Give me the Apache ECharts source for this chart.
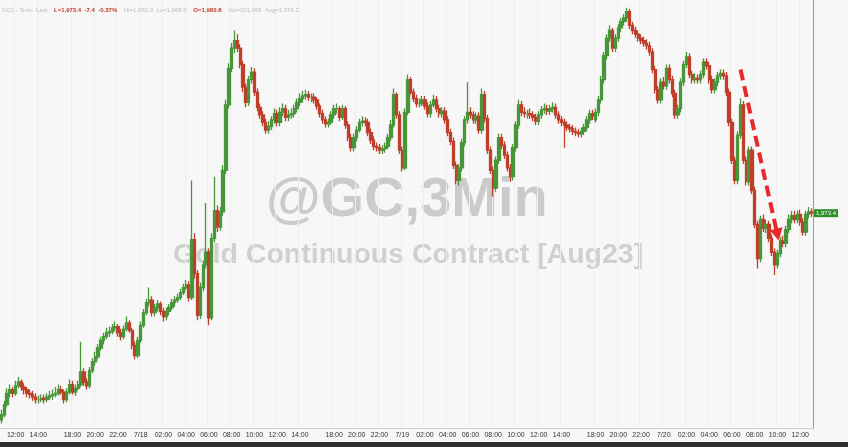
<!DOCTYPE html>
<html><head><meta charset="utf-8">
<script src="https://cdn.jsdelivr.net/npm/echarts/dist/echarts.min.js"></script>
<style>html,body{margin:0;padding:0;background:#f7f7f7}#c{width:848px;height:447px}</style>
</head><body><div id="c"></div>
<script>
// Trading sessions (15-minute bars): [month/day, start hour, start minute, bar count]
const sessions = [[17, 10, 45, 25], [17, 18, 0, 92], [18, 18, 0, 92], [19, 18, 0, 77]];

const xTickLabels = [
 '7/17 12:00','7/17 14:00','7/17 18:00','7/17 20:00','7/17 22:00',
 '7/18 00:00','7/18 02:00','7/18 04:00','7/18 06:00','7/18 08:00','7/18 10:00','7/18 12:00','7/18 14:00',
 '7/18 18:00','7/18 20:00','7/18 22:00',
 '7/19 00:00','7/19 02:00','7/19 04:00','7/19 06:00','7/19 08:00','7/19 10:00','7/19 12:00','7/19 14:00',
 '7/19 18:00','7/19 20:00','7/19 22:00',
 '7/20 00:00','7/20 02:00','7/20 04:00','7/20 06:00','7/20 08:00','7/20 10:00','7/20 12:00'
];

const yTicks = [1960, 1965, 1970, 1975, 1980, 1985];

const opens = [
1957.0,1957.4,1958.2,1959.1,1959.4,1959.1,1959.7,1960.0,1959.6,1959.4,
1959.1,1959.0,1958.8,1958.6,1958.6,1958.7,1958.6,1958.8,1958.9,1959.0,
1959.1,1959.4,1959.2,1958.6,1959.2,1959.8,1959.2,1959.5,1959.8,1960.8,
1960.0,1959.7,1960.9,1961.6,1962.0,1962.7,1963.3,1963.6,1963.9,1964.0,
1964.3,1964.4,1963.9,1963.6,1964.2,1964.7,1964.1,1962.9,1962.1,1963.3,
1964.5,1965.5,1966.3,1966.5,1965.5,1965.9,1966.2,1965.6,1965.2,1965.6,
1965.9,1966.3,1966.5,1966.7,1967.1,1967.5,1967.7,1966.7,1971.3,1968.6,
1965.3,1967.5,1969.3,1970.3,1965.1,1971.4,1973.6,1972.3,1973.5,1976.8,
1982.0,1984.9,1986.5,1987.1,1986.5,1985.2,1983.4,1982.2,1984.0,1984.6,
1983.0,1981.8,1981.2,1980.6,1980.0,1980.3,1980.8,1981.3,1980.6,1981.4,
1981.7,1981.0,1981.2,1981.3,1981.7,1982.2,1982.5,1982.7,1982.8,1982.6,
1982.6,1982.4,1981.9,1981.3,1980.8,1980.5,1980.6,1981.2,1981.7,1981.7,
1981.0,1981.7,1980.4,1979.4,1978.6,1979.4,1980.0,1980.6,1980.7,1980.6,
1979.8,1979.2,1978.7,1978.6,1978.4,1978.5,1978.7,1979.4,1980.4,1982.8,
1981.2,1978.4,1977.0,1981.4,1984.0,1983.0,1982.5,1982.1,1982.1,1982.4,
1981.9,1981.3,1982.0,1982.4,1981.7,1981.3,1981.5,1980.8,1979.8,1979.1,
1977.2,1976.0,1977.0,1979.0,1980.8,1981.4,1981.2,1980.8,1981.1,1980.0,
1982.8,1980.9,1978.4,1976.8,1975.4,1977.6,1979.4,1978.8,1978.0,1977.0,
1976.3,1978.6,1980.4,1982.0,1981.4,1981.3,1981.3,1981.2,1981.0,1980.7,
1981.2,1981.6,1981.7,1981.5,1981.7,1981.8,1981.2,1980.8,1980.6,1980.4,
1980.2,1980.1,1979.9,1979.8,1979.7,1979.9,1980.2,1980.8,1981.3,1980.8,
1981.4,1982.4,1984.0,1985.9,1987.3,1987.9,1986.5,1987.3,1988.1,1988.6,
1988.9,1989.4,1988.3,1987.9,1987.6,1987.3,1987.1,1986.9,1986.7,1986.2,
1984.8,1983.2,1982.4,1983.8,1983.5,1984.9,1984.0,1982.9,1981.2,1981.7,
1983.8,1985.2,1985.8,1984.4,1984.0,1984.1,1984.0,1984.4,1985.4,1985.1,
1984.0,1983.2,1983.8,1984.3,1984.5,1984.3,1983.0,1980.6,1977.6,1976.0,
1979.6,1982.0,1977.6,1975.9,1978.4,1975.2,1972.5,1969.8,1972.9,1972.2,
1972.5,1971.4,1970.3,1969.3,1970.2,1971.2,1971.0,1972.1,1972.9,1973.2,
1972.9,1973.3,1972.7,1971.9,1973.3,1973.5];

const closes = [
1957.4,1958.2,1959.1,1959.4,1959.1,1959.7,1960.0,1959.6,1959.4,1959.1,
1959.0,1958.8,1958.6,1958.6,1958.7,1958.6,1958.8,1958.9,1959.0,1959.1,
1959.4,1959.2,1958.6,1959.2,1959.8,1959.2,1959.5,1959.8,1960.8,1960.0,
1959.7,1960.9,1961.6,1962.0,1962.7,1963.3,1963.6,1963.9,1964.0,1964.3,
1964.4,1963.9,1963.6,1964.2,1964.7,1964.1,1962.9,1962.1,1963.3,1964.5,
1965.5,1966.3,1966.5,1965.5,1965.9,1966.2,1965.6,1965.2,1965.6,1965.9,
1966.3,1966.5,1966.7,1967.1,1967.5,1967.7,1966.7,1971.3,1968.6,1965.3,
1967.5,1969.3,1970.3,1965.1,1971.4,1973.6,1972.3,1973.5,1976.8,1982.0,
1984.9,1986.5,1987.1,1986.5,1985.2,1983.4,1982.2,1984.0,1984.6,1983.0,
1981.8,1981.2,1980.6,1980.0,1980.3,1980.8,1981.3,1980.6,1981.4,1981.7,
1981.0,1981.2,1981.3,1981.7,1982.2,1982.5,1982.7,1982.8,1982.6,1982.6,
1982.4,1981.9,1981.3,1980.8,1980.5,1980.6,1981.2,1981.7,1981.7,1981.0,
1981.7,1980.4,1979.4,1978.6,1979.4,1980.0,1980.6,1980.7,1980.6,1979.8,
1979.2,1978.7,1978.6,1978.4,1978.5,1978.7,1979.4,1980.4,1982.8,1981.2,
1978.4,1977.0,1981.4,1984.0,1983.0,1982.5,1982.1,1982.1,1982.4,1981.9,
1981.3,1982.0,1982.4,1981.7,1981.3,1981.5,1980.8,1979.8,1979.1,1977.2,
1976.0,1977.0,1979.0,1980.8,1981.4,1981.2,1980.8,1981.1,1980.0,1982.8,
1980.9,1978.4,1976.8,1975.4,1977.6,1979.4,1978.8,1978.0,1977.0,1976.3,
1978.6,1980.4,1982.0,1981.4,1981.3,1981.3,1981.2,1981.0,1980.7,1981.2,
1981.6,1981.7,1981.5,1981.7,1981.8,1981.2,1980.8,1980.6,1980.4,1980.2,
1980.1,1979.9,1979.8,1979.7,1979.9,1980.2,1980.8,1981.3,1981.1,1981.4,
1982.4,1984.0,1985.9,1987.3,1987.9,1986.5,1987.3,1988.1,1988.6,1988.9,
1989.4,1988.3,1987.9,1987.6,1987.3,1987.1,1986.9,1986.7,1986.2,1984.8,
1983.2,1982.4,1983.8,1983.5,1984.9,1984.0,1982.9,1981.2,1981.7,1983.8,
1985.2,1985.8,1984.4,1984.0,1984.1,1984.0,1984.4,1985.4,1985.1,1984.0,
1983.2,1983.8,1984.3,1984.5,1984.3,1983.0,1980.6,1977.6,1976.0,1979.6,
1982.0,1977.6,1975.9,1978.4,1975.2,1972.5,1969.8,1972.9,1972.2,1972.5,
1971.4,1970.3,1969.3,1970.2,1971.2,1971.0,1972.1,1972.9,1973.2,1972.9,
1973.3,1972.7,1971.9,1973.3,1973.5,1973.4];

const lows = [
1956.7,1957.2,1958.0,1958.8,1958.8,1958.9,1959.5,1959.3,1959.0,1958.8,
1958.7,1958.5,1958.3,1958.3,1958.4,1958.3,1958.4,1958.6,1958.6,1958.8,
1958.9,1959.0,1958.3,1958.4,1959.0,1959.0,1958.9,1959.3,1959.6,1959.7,
1959.4,1959.5,1960.7,1961.3,1961.8,1962.5,1963.0,1963.4,1963.6,1963.8,
1964.0,1963.6,1963.3,1963.4,1964.0,1963.9,1962.6,1961.8,1961.9,1963.1,
1964.3,1965.3,1966.0,1965.2,1965.2,1965.6,1965.3,1964.8,1964.9,1965.3,
1965.7,1966.0,1966.3,1966.5,1966.9,1967.3,1966.4,1966.5,1968.2,1964.9,
1965.0,1967.2,1969.0,1964.5,1964.9,1971.1,1971.9,1972.0,1973.2,1976.5,
1981.7,1984.6,1986.1,1986.2,1984.9,1983.0,1981.8,1981.9,1983.7,1982.7,
1981.5,1980.9,1980.3,1979.7,1979.7,1980.0,1980.5,1980.3,1980.3,1981.1,
1980.7,1980.7,1980.9,1981.0,1981.4,1981.9,1982.2,1982.4,1982.3,1982.2,
1982.1,1981.6,1981.0,1980.5,1980.2,1980.2,1980.4,1980.9,1981.3,1980.7,
1980.8,1980.1,1979.1,1978.3,1978.3,1979.1,1979.8,1980.3,1980.3,1979.5,
1978.9,1978.4,1978.3,1978.1,1978.1,1978.2,1978.5,1979.1,1980.2,1980.9,
1978.1,1976.7,1976.8,1981.2,1982.8,1982.2,1981.8,1981.8,1981.9,1981.6,
1981.0,1981.0,1981.8,1981.4,1981.0,1981.0,1980.5,1979.5,1978.8,1976.9,
1975.7,1975.6,1976.7,1978.7,1980.5,1980.9,1980.5,1980.5,1979.7,1979.7,
1980.6,1978.1,1976.5,1974.7,1975.1,1977.3,1978.5,1977.7,1976.7,1975.9,
1976.0,1978.3,1980.1,1981.1,1981.0,1980.9,1980.9,1980.7,1980.4,1980.4,
1980.9,1981.3,1981.2,1981.2,1981.4,1980.9,1980.5,1980.3,1978.6,1979.9,
1979.8,1979.6,1979.5,1979.4,1979.4,1979.6,1979.9,1980.5,1980.8,1980.6,
1981.1,1982.1,1983.7,1985.6,1987.0,1986.2,1986.2,1987.0,1987.8,1988.3,
1988.6,1988.0,1987.6,1987.3,1987.0,1986.8,1986.6,1986.4,1985.9,1984.5,
1982.9,1982.1,1982.1,1983.2,1983.2,1983.7,1982.6,1980.9,1980.9,1981.4,
1983.5,1984.9,1984.1,1983.7,1983.7,1983.7,1983.7,1984.1,1984.8,1983.7,
1982.9,1982.9,1983.5,1984.0,1984.0,1982.7,1980.3,1977.3,1975.7,1975.7,
1979.3,1977.3,1975.6,1975.6,1974.9,1972.2,1969.0,1969.5,1971.9,1971.8,
1971.1,1970.0,1968.5,1969.0,1969.9,1970.7,1970.7,1971.8,1972.6,1972.6,
1972.6,1972.4,1971.6,1971.6,1973.0,1973.1];

const highs = [
1957.8,1958.5,1959.5,1959.8,1959.6,1960.1,1960.4,1960.2,1959.9,1959.6,
1959.4,1959.3,1959.1,1958.9,1959.0,1959.0,1959.1,1959.3,1959.4,1959.6,
1959.8,1959.7,1959.4,1959.5,1960.2,1960.1,1959.8,1960.1,1963.2,1961.1,
1960.3,1961.2,1961.9,1962.4,1963.0,1963.6,1963.9,1964.3,1964.4,1964.6,
1964.8,1964.6,1964.2,1964.5,1965.2,1964.9,1964.3,1963.2,1963.6,1964.8,
1965.8,1966.6,1967.5,1966.8,1966.2,1966.5,1966.4,1965.9,1965.9,1966.2,
1966.6,1966.8,1967.0,1967.4,1967.8,1968.1,1968.0,1976.0,1971.8,1968.9,
1967.9,1969.6,1974.2,1970.6,1971.8,1976.3,1974.0,1973.9,1977.2,1982.4,
1985.3,1986.9,1987.9,1987.6,1986.8,1985.5,1983.7,1984.3,1985.0,1984.9,
1983.3,1982.1,1981.5,1980.9,1980.7,1981.1,1981.7,1981.6,1981.8,1982.1,
1982.0,1981.6,1981.7,1982.0,1982.5,1982.9,1983.1,1983.2,1983.1,1982.9,
1982.9,1982.6,1982.1,1981.6,1981.1,1980.9,1981.5,1982.0,1982.1,1981.9,
1982.0,1981.9,1980.7,1979.7,1979.7,1980.3,1980.9,1981.1,1981.0,1980.9,
1980.1,1979.5,1979.0,1978.9,1978.8,1979.0,1979.7,1980.8,1983.3,1983.0,
1981.5,1978.7,1981.7,1984.4,1984.2,1983.3,1982.8,1982.5,1982.7,1982.7,
1982.2,1982.3,1982.8,1982.7,1982.0,1981.8,1981.8,1981.1,1980.1,1979.4,
1977.5,1977.3,1979.3,1981.1,1983.8,1981.8,1981.5,1981.4,1981.4,1983.3,
1983.1,1981.2,1978.7,1977.1,1977.9,1979.7,1979.7,1979.1,1978.3,1977.3,
1978.9,1980.7,1982.4,1982.3,1981.8,1981.6,1981.7,1981.5,1981.3,1981.5,
1981.9,1982.1,1982.0,1982.0,1982.2,1982.1,1981.5,1981.1,1980.9,1980.7,
1980.5,1980.4,1980.2,1980.1,1980.2,1980.5,1981.1,1981.6,1981.6,1981.7,
1982.7,1984.3,1986.2,1987.6,1988.3,1988.1,1987.6,1988.4,1988.9,1989.2,
1989.7,1989.6,1988.6,1988.2,1987.9,1987.6,1987.4,1987.2,1987.0,1986.5,
1985.1,1983.5,1984.1,1984.2,1985.2,1985.2,1984.3,1983.2,1982.0,1984.1,
1985.5,1986.2,1986.1,1984.7,1984.5,1984.4,1984.7,1985.7,1985.7,1985.4,
1984.3,1984.1,1984.6,1984.8,1984.8,1984.6,1983.3,1980.9,1977.9,1979.9,
1982.5,1982.3,1977.9,1978.7,1978.7,1975.5,1972.8,1973.2,1973.3,1972.9,
1972.8,1971.7,1970.6,1970.5,1971.5,1971.6,1972.4,1973.3,1973.6,1973.6,
1973.6,1973.7,1973.0,1973.6,1973.9,1973.8];

// build category labels "7/D HH:MM" for each 15-minute bar
const categories = [];
sessions.forEach(([day, h, m, n]) => {
  let d = day, t = h * 60 + m;
  for (let k = 0; k < n; k++) {
    if (t >= 1440) { t -= 1440; d += 1; }
    const hh = String(Math.floor(t / 60)).padStart(2, '0');
    const mm = String(t % 60).padStart(2, '0');
    categories.push('7/' + d + ' ' + hh + ':' + mm);
    t += 15;
  }
});
const ohlc = closes.map((c, i) => [opens[i], c, lows[i], highs[i]]);
const tickSet = new Set(xTickLabels);
const lastClose = closes[closes.length - 1];
const fmt = v => v.toLocaleString('en-US', {minimumFractionDigits: 1, maximumFractionDigits: 1});

const chart = echarts.init(document.getElementById('c'), null, {renderer: 'canvas'});
chart.setOption({
  backgroundColor: '#f7f7f7',
  animation: false,
  grid: {left: 0, right: 35, top: 0, bottom: 19},
  xAxis: {
    type: 'category', data: categories, boundaryGap: true,
    axisLine: {show: true, lineStyle: {color: '#cfcfcf'}},
    axisTick: {show: false},
    axisLabel: {
      interval: (i, v) => tickSet.has(v),
      formatter: v => v.endsWith('00:00') ? v.split(' ')[0] : v.split(' ')[1],
      fontSize: 7, color: '#333', margin: 4, fontFamily: 'Liberation Sans'
    },
    splitLine: {show: true, interval: (i, v) => tickSet.has(v), lineStyle: {color: '#eeeeee', width: 1}}
  },
  yAxis: {
    type: 'value', position: 'right', scale: true,
    min: 1956.35, max: 1990.32, interval: 5,
    axisLine: {show: true, lineStyle: {color: '#9a9a9a'}},
    axisTick: {show: false},
    splitLine: {show: false},
    axisLabel: {
      showMinLabel: false, showMaxLabel: false,
      formatter: v => yTicks.includes(v) ? fmt(v) : '',
      fontSize: 6, color: '#9a9a9a', margin: 3, fontFamily: 'Liberation Sans'
    }
  },
  graphic: [
    {type: 'text', left: 266, top: 173, z: 0, silent: true,
     style: {text: '@GC,3Min', font: 'bold 56px "Liberation Sans"', fill: '#cbcbcb'}},
    {type: 'text', left: 173, top: 241, z: 0, silent: true,
     style: {text: 'Gold Continuous Contract [Aug23]', font: 'bold 28.5px "Liberation Sans"', fill: '#d0d0d0'}},
    {type: 'text', left: 2, top: 4, z: 10, silent: true,
     style: {
       text: '{g|GC1 - 3min  Last}  {r|L=1,973.4  -7.4  -0.37%}  {g|Hi=1,982.0  Lo=1,968.5}  {r|O=1,980.8}  {g|Vol=101,068  Avg=1,976.2}',
       rich: {
         g: {fontSize: 6, fill: '#bdbdbd', fontFamily: 'Liberation Sans'},
         r: {fontSize: 6, fill: '#c0392b', fontFamily: 'Liberation Sans', fontWeight: 'bold'}
       }
     }},
    {type: 'rect', left: 0, top: 442, z: 10, silent: true,
     shape: {width: 848, height: 5}, style: {fill: '#2e2e2e'}}
  ],
  series: [{
    type: 'candlestick',
    data: ohlc,
    barWidth: '100%',
    itemStyle: {
      color: '#48963a', color0: '#bf3f2b',
      borderColor: '#48963a', borderColor0: '#bf3f2b', borderWidth: 1.3
    },
    markLine: {
      silent: true, animation: false,
      symbol: ['none', 'none'],
      data: [
        [
          {coord: ['7/20 06:45', 1984.8], symbol: 'none',
           lineStyle: {color: '#e8292b', width: 4, type: [11, 6]}, label: {show: false}},
          {coord: ['7/20 10:00', 1971.7], symbol: 'triangle', symbolSize: [13, 12]}
        ],
        {yAxis: lastClose, symbol: 'none',
         lineStyle: {color: 'transparent', width: 0},
         label: {show: true, position: 'end', formatter: fmt(lastClose), color: '#fff',
                 backgroundColor: '#2f8f2f', fontSize: 6, padding: [1, 2, 1, 2], distance: 1,
                 fontFamily: 'Liberation Sans'}}
      ]
    }
  }]
});
</script>
</body></html>
